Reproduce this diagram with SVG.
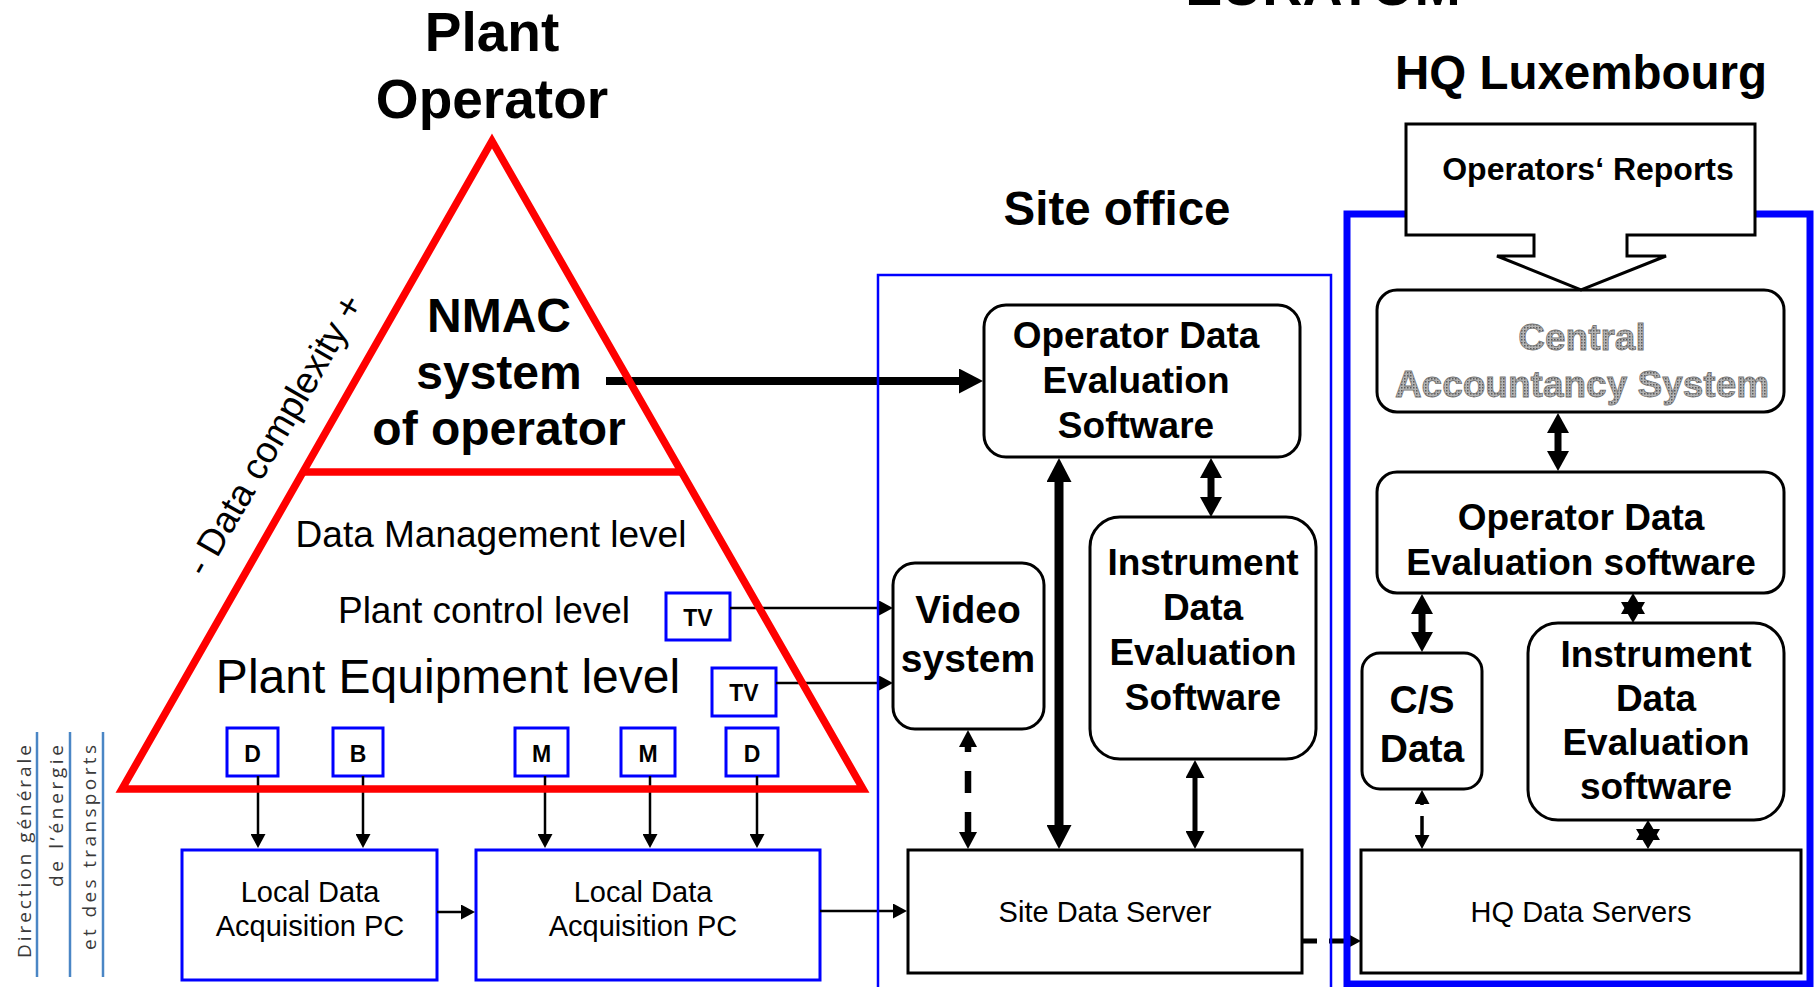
<svg xmlns="http://www.w3.org/2000/svg" width="1814" height="987" viewBox="0 0 1814 987">
  <style>
    .t { font-family: "Liberation Sans", Arial, sans-serif; fill: #000; }
    .b { font-weight: bold; }
    .m { text-anchor: middle; }
    .box { fill: #fff; stroke: #000; stroke-width: 3; }
    .bbox { fill: #fff; stroke: #0000ff; stroke-width: 3; }
    .c { stroke: #000; fill: none; }
    .head { fill: #000; stroke: none; }
    .side { font-family: "Open Sans", "DejaVu Sans", sans-serif; font-size: 19px; fill: #3a3a3a; }
    .rule { stroke: #4a86c5; stroke-width: 2.5; }
    .grainy { fill: url(#grain); stroke: #777; stroke-width: 0.8; }
  </style>
  <defs>
    <marker id="arr-s" viewBox="0 0 14 15" refX="1" refY="7.5" markerWidth="14" markerHeight="15" markerUnits="userSpaceOnUse" orient="auto-start-reverse">
      <path d="M0,0 L14,7.5 L0,15 Z" fill="#000"/>
    </marker>
    <marker id="arr-v" viewBox="0 0 17 18" refX="1" refY="9" markerWidth="17" markerHeight="18" markerUnits="userSpaceOnUse" orient="auto-start-reverse">
      <path d="M0,0 L17,9 L0,18 Z" fill="#000"/>
    </marker>
    <marker id="arr-m2" viewBox="0 0 18 19" refX="1" refY="9.5" markerWidth="18" markerHeight="19" markerUnits="userSpaceOnUse" orient="auto-start-reverse">
      <path d="M0,0 L18,9.5 L0,19 Z" fill="#000"/>
    </marker>
    <marker id="arr-m" viewBox="0 0 20 22" refX="1" refY="11" markerWidth="20" markerHeight="22" markerUnits="userSpaceOnUse" orient="auto-start-reverse">
      <path d="M0,0 L20,11 L0,22 Z" fill="#000"/>
    </marker>
    <marker id="arr-l" viewBox="0 0 24 25" refX="1" refY="12.5" markerWidth="24" markerHeight="25" markerUnits="userSpaceOnUse" orient="auto-start-reverse">
      <path d="M0,0 L24,12.5 L0,25 Z" fill="#000"/>
    </marker>
    <pattern id="grain" width="3" height="3" patternUnits="userSpaceOnUse">
      <rect width="3" height="3" fill="#b4b4b4"/>
      <rect width="1.5" height="1.5" fill="#5a5a5a"/>
    </pattern>
  </defs>

  <rect width="1814" height="987" fill="#fff"/>

  <!-- headings -->
  <g id="titles">
    <text class="t b m" x="1323" y="5" font-size="55.5">EURATOM</text>
    <text class="t b m" x="492" y="51" font-size="55">Plant</text>
    <text class="t b m" x="492" y="118" font-size="55">Operator</text>
    <text class="t b m" x="1117" y="225" font-size="47.5">Site office</text>
    <text class="t b m" x="1581" y="89" font-size="47.5">HQ Luxembourg</text>
  </g>

  <!-- side legend -->
  <g id="dg-legend">
    <line class="rule" x1="37" y1="732" x2="37" y2="977"/>
    <line class="rule" x1="70" y1="732" x2="70" y2="977"/>
    <line class="rule" x1="103" y1="732" x2="103" y2="977"/>
    <text class="side" transform="translate(31,958) rotate(-90)" textLength="213" lengthAdjust="spacing">Direction générale</text>
    <text class="side" transform="translate(63,887) rotate(-90)" textLength="142" lengthAdjust="spacing">de l’énergie</text>
    <text class="side" transform="translate(96,950) rotate(-90)" textLength="205" lengthAdjust="spacing">et des transports</text>
  </g>

  <!-- pyramid labels -->
  <g id="nmac">
    <text class="t b m" x="499" y="332" font-size="48">NMAC</text>
    <text class="t b m" x="499" y="389" font-size="48">system</text>
    <text class="t b m" x="499" y="445" font-size="48">of operator</text>
  </g>
  <g id="complexity">
    <text class="t m" transform="translate(285,441) rotate(-60)" font-size="37">- Data complexity +</text>
  </g>
  <g id="level-data-management">
    <text class="t m" x="491" y="547" font-size="37">Data Management level</text>
  </g>
  <g id="level-plant-control">
    <text class="t m" x="484" y="623" font-size="37">Plant control level</text>
  </g>
  <g id="level-plant-equipment">
    <text class="t m" x="448" y="693" font-size="48">Plant Equipment level</text>
  </g>

  <!-- field devices -->
  <g id="tv-1">
    <rect class="bbox" x="666" y="593" width="64" height="47"/>
    <text class="t b m" x="698" y="626" font-size="23">TV</text>
  </g>
  <g id="tv-2">
    <rect class="bbox" x="712" y="668" width="64" height="48"/>
    <text class="t b m" x="744" y="701" font-size="23">TV</text>
  </g>
  <g id="dev-d1">
    <rect class="bbox" x="227" y="728" width="51" height="48"/>
    <text class="t b m" x="252.5" y="762" font-size="23">D</text>
  </g>
  <g id="dev-b">
    <rect class="bbox" x="333" y="728" width="50" height="48"/>
    <text class="t b m" x="358" y="762" font-size="23">B</text>
  </g>
  <g id="dev-m1">
    <rect class="bbox" x="515" y="728" width="53" height="48"/>
    <text class="t b m" x="541.5" y="762" font-size="23">M</text>
  </g>
  <g id="dev-m2">
    <rect class="bbox" x="621" y="728" width="54" height="48"/>
    <text class="t b m" x="648" y="762" font-size="23">M</text>
  </g>
  <g id="dev-d2">
    <rect class="bbox" x="726" y="728" width="52" height="48"/>
    <text class="t b m" x="752" y="762" font-size="23">D</text>
  </g>

  <!-- local acquisition -->
  <g id="lda-1">
    <rect class="bbox" x="182" y="850" width="255" height="130"/>
    <text class="t m" x="310" y="902" font-size="29">Local Data</text>
    <text class="t m" x="310" y="936" font-size="29">Acquisition PC</text>
  </g>
  <g id="lda-2">
    <rect class="bbox" x="476" y="850" width="344" height="130"/>
    <text class="t m" x="643" y="902" font-size="29">Local Data</text>
    <text class="t m" x="643" y="936" font-size="29">Acquisition PC</text>
  </g>

  <!-- site office nodes -->
  <g id="site-ode">
    <rect class="box" x="984" y="305" width="316" height="152" rx="22"/>
    <text class="t b m" x="1136" y="348" font-size="37">Operator Data</text>
    <text class="t b m" x="1136" y="393" font-size="37">Evaluation</text>
    <text class="t b m" x="1136" y="438" font-size="37">Software</text>
  </g>
  <g id="video">
    <rect class="box" x="893" y="563" width="151" height="166" rx="22"/>
    <text class="t b m" x="968" y="623" font-size="39">Video</text>
    <text class="t b m" x="968" y="672" font-size="39">system</text>
  </g>
  <g id="site-ide">
    <rect class="box" x="1090" y="517" width="226" height="242" rx="30"/>
    <text class="t b m" x="1203" y="575" font-size="37">Instrument</text>
    <text class="t b m" x="1203" y="620" font-size="37">Data</text>
    <text class="t b m" x="1203" y="665" font-size="37">Evaluation</text>
    <text class="t b m" x="1203" y="710" font-size="37">Software</text>
  </g>
  <g id="site-server">
    <rect class="box" x="908" y="850" width="394" height="123"/>
    <text class="t m" x="1105" y="922" font-size="29">Site Data Server</text>
  </g>

  <!-- headquarters nodes -->
  <g id="central">
    <rect class="box" x="1377" y="290" width="407" height="122" rx="20"/>
    <text class="t b m grainy" x="1582" y="350" font-size="37">Central</text>
    <text class="t b m grainy" x="1582" y="397" font-size="37">Accountancy System</text>
  </g>
  <g id="hq-ode">
    <rect class="box" x="1377" y="472" width="407" height="121" rx="20"/>
    <text class="t b m" x="1581" y="530" font-size="37">Operator Data</text>
    <text class="t b m" x="1581" y="575" font-size="37">Evaluation software</text>
  </g>
  <g id="cs-data">
    <rect class="box" x="1362" y="653" width="120" height="136" rx="18"/>
    <text class="t b m" x="1422" y="713" font-size="39">C/S</text>
    <text class="t b m" x="1422" y="762" font-size="39">Data</text>
  </g>
  <g id="hq-ide">
    <rect class="box" x="1528" y="623" width="256" height="197" rx="30"/>
    <text class="t b m" x="1656" y="667" font-size="37">Instrument</text>
    <text class="t b m" x="1656" y="711" font-size="37">Data</text>
    <text class="t b m" x="1656" y="755" font-size="37">Evaluation</text>
    <text class="t b m" x="1656" y="799" font-size="37">software</text>
  </g>
  <g id="hq-servers">
    <rect class="box" x="1361" y="850" width="440" height="123"/>
    <text class="t m" x="1581" y="922" font-size="29">HQ Data Servers</text>
  </g>

  <!-- data flows -->
  <g id="connectors">
    <line class="c" x1="606" y1="381" x2="960" y2="381" stroke-width="8" marker-end="url(#arr-l)"/>
    <line class="c" x1="730" y1="608" x2="880" y2="608" stroke-width="2.5" marker-end="url(#arr-s)"/>
    <line class="c" x1="776" y1="683" x2="880" y2="683" stroke-width="2.5" marker-end="url(#arr-s)"/>
    <line class="c" x1="258" y1="776" x2="258" y2="835" stroke-width="2.5" marker-end="url(#arr-s)"/>
    <line class="c" x1="363" y1="776" x2="363" y2="835" stroke-width="2.5" marker-end="url(#arr-s)"/>
    <line class="c" x1="545" y1="776" x2="545" y2="835" stroke-width="2.5" marker-end="url(#arr-s)"/>
    <line class="c" x1="650" y1="776" x2="650" y2="835" stroke-width="2.5" marker-end="url(#arr-s)"/>
    <line class="c" x1="757" y1="776" x2="757" y2="835" stroke-width="2.5" marker-end="url(#arr-s)"/>
    <line class="c" x1="437" y1="912" x2="462" y2="912" stroke-width="2.5" marker-end="url(#arr-s)"/>
    <line class="c" x1="820" y1="911" x2="894" y2="911" stroke-width="2.5" marker-end="url(#arr-s)"/>
    <line class="c" x1="968" y1="746" x2="968" y2="833" stroke-width="6.5" stroke-dasharray="22 19" stroke-dashoffset="16" marker-start="url(#arr-v)" marker-end="url(#arr-v)"/>
    <line class="c" x1="1059" y1="481" x2="1059" y2="826" stroke-width="9" marker-start="url(#arr-l)" marker-end="url(#arr-l)"/>
    <line class="c" x1="1211" y1="477" x2="1211" y2="498" stroke-width="7" marker-start="url(#arr-m)" marker-end="url(#arr-m)"/>
    <line class="c" x1="1195" y1="777" x2="1195" y2="832" stroke-width="5" marker-start="url(#arr-m2)" marker-end="url(#arr-m2)"/>
    <line class="c" x1="1558" y1="432" x2="1558" y2="452" stroke-width="7" marker-start="url(#arr-m)" marker-end="url(#arr-m)"/>
    <line class="c" x1="1422" y1="613" x2="1422" y2="633" stroke-width="7" marker-start="url(#arr-m)" marker-end="url(#arr-m)"/>
    <line class="c" x1="1422" y1="803" x2="1422" y2="836" stroke-width="3.5" stroke-dasharray="2 11 40 2 11 40" marker-start="url(#arr-s)" marker-end="url(#arr-s)"/>
    <line class="c" x1="1302" y1="941" x2="1348" y2="941" stroke-width="5" stroke-dasharray="15 12" marker-end="url(#arr-s)"/>
    <polygon class="head" points="1633,593 1645,614 1621,614"/>
    <polygon class="head" points="1633,623 1645,602 1621,602"/>
    <polygon class="head" points="1648,820 1660,840 1636,840"/>
    <polygon class="head" points="1648,849 1660,829 1636,829"/>
  </g>

  <!-- plant operator pyramid -->
  <g id="pyramid" fill="none" stroke="#ff0000" stroke-width="7.5">
    <polygon points="492,141 863,789 122,789"/>
    <line x1="303" y1="472" x2="681" y2="472"/>
  </g>

  <!-- site office area -->
  <g id="site-office">
    <rect x="878" y="275" width="453" height="740" fill="none" stroke="#0000ff" stroke-width="2.5"/>
  </g>

  <!-- headquarters area -->
  <g id="hq">
    <rect x="1347" y="214" width="463" height="770" fill="none" stroke="#0000ff" stroke-width="7"/>
  </g>

  <!-- reports callout -->
  <g id="operators-reports">
    <path d="M1406,124 H1755 V235 H1627 V256 H1666 L1581,290 L1497,256 H1534 V235 H1406 Z" fill="#fff" stroke="#000" stroke-width="3" stroke-linejoin="miter"/>
    <text class="t b m" x="1588" y="180" font-size="32">Operators‘ Reports</text>
  </g>
</svg>
